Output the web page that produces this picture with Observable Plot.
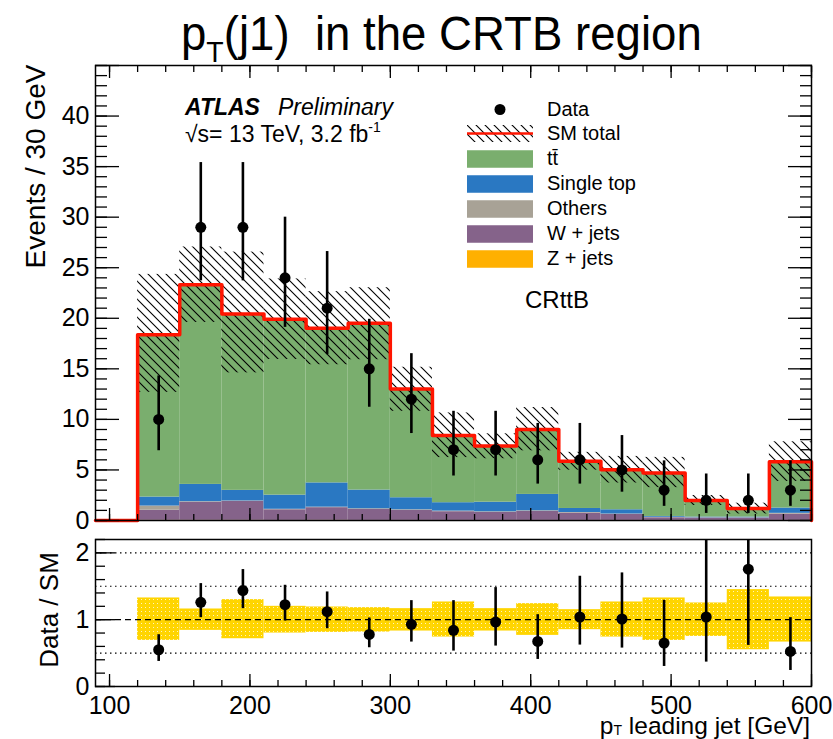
<!DOCTYPE html>
<html><head><meta charset="utf-8">
<script src="https://cdn.jsdelivr.net/npm/d3@7"></script>
<script src="https://cdn.jsdelivr.net/npm/@observablehq/plot@0.6"></script>
<style>
html,body{margin:0;padding:0;background:#fff;overflow:hidden;}
#wrap{position:relative;width:833px;height:739px;font-family:"Liberation Sans",Arial,sans-serif;}
</style></head><body>
<svg width="0" height="0" style="position:absolute">
<defs>
<pattern id="hatch" patternUnits="userSpaceOnUse" width="9" height="9">
<path d="M-1,-1 L10,10 M-1,8 L1,10 M8,-1 L10,1" stroke="#000" stroke-width="1.1" fill="none"/>
</pattern>
<pattern id="band" patternUnits="userSpaceOnUse" width="4" height="4">
<rect width="4" height="4" fill="#ffd500"/>
<rect x="1" y="1" width="1" height="1" fill="#fff" fill-opacity="0.75"/>
</pattern>
</defs></svg>
<div id="wrap"></div>
<script>
// ---- data ----
const binLo = [120,150,180,210,240,270,300,330,360,390,420,450,480,510,540,570];
const binHi = [150,180,210,240,270,300,330,360,390,420,450,480,510,540,570,600];
const binCenter = [135,165,195,225,255,285,315,345,375,405,435,465,495,525,555,585];

const ttbar     = [16.05,19.75,17.44,17.4,15.3,16.5,10.76,6.65,5.55,6.43,4.67,3.95,4.31,1.64,0.84,4.58];
const singleTop = [0.89,1.71,1.05,1.4,2.4,1.85,1.19,0.83,0.95,1.62,0.4,0.42,0.08,0.07,0.07,0.52];
const others    = [0.41,0.06,0.04,0.05,0.05,0.07,0.06,0.06,0.06,0.06,0.06,0.04,0.05,0.03,0.03,0.08];
const wjets     = [1.0,1.78,1.87,1.05,1.25,1.08,0.99,0.86,0.79,0.89,0.72,0.59,0.26,0.23,0.23,0.62];
const zjets     = [0.02,0.02,0.02,0.01,0.02,0.01,0.01,0.01,0.01,0.01,0.01,0.01,0.01,0.01,0.01,0.01];

const dataVals = [10,29,29,24,21,15,12,7,7,6,6,5,3,2,2,3];
const dataLo   = [6.9,23.7,23.7,19.1,16.4,11.2,8.6,4.4,4.4,3.6,3.6,2.8,1.4,0.7,0.7,1.4];
const dataHi   = [14.3,35.4,35.4,30.0,26.6,19.9,16.5,10.8,10.8,9.6,9.6,8.4,5.9,4.6,4.6,5.9];

// relative SM uncertainty band (ratio panel)
const bandLo = [0.69,0.84,0.715,0.8,0.81,0.815,0.83,0.74,0.83,0.765,0.85,0.74,0.69,0.75,0.55,0.665];
const bandHi = [1.325,1.16,1.30,1.2,1.19,1.18,1.165,1.265,1.165,1.24,1.15,1.265,1.325,1.25,1.45,1.34];

// Data / SM
const ratioVals = [0.55,1.26,1.435,1.225,1.12,0.78,0.93,0.84,0.965,0.675,1.04,1.01,0.65,1.04,1.755,0.525];
const ratioLo   = [0.375,1.03,1.165,0.98,0.865,0.58,0.665,0.53,0.605,0.405,0.62,0.575,0.30,0.365,0.615,0.24];
const ratioHi   = [0.775,1.54,1.75,1.515,1.415,1.025,1.285,1.285,1.48,1.075,1.65,1.70,1.29,2.36,3.97,1.03];

const compNames  = ["Z + jets","W + jets","Others","Single top","tt\u0304"]; // bottom -> top
const compColors = ["#ffb000","#85638a","#a8a296","#2a78c2","#7aae6e"];

const xMajor = [100,200,300,400,500,600];
const xMinor = [100,120,140,160,180,200,220,240,260,280,300,320,340,360,380,400,420,440,460,480,500,520,540,560,580,600];
const yMajor = [0,5,10,15,20,25,30,35,40,45];
const yLabels = [0,5,10,15,20,25,30,35,40];
const yMinor = d3.range(0,46,1);
const rMajor = [0,1,2];
const rMinor = [0,0.2,0.4,0.6,0.8,1,1.2,1.4,1.6,1.8,2,2.2];
const rGrid = [0.5,1.5,2];

// ---- tables built from the arrays ----
const series = [zjets, wjets, others, singleTop, ttbar];
const stackRows = [];
const total = binLo.map((lo,i) => {
  let base = 0;
  series.forEach((s,k) => {
    stackRows.push({x1: lo, x2: binHi[i], y1: base, y2: base + s[i], comp: compNames[k]});
    base += s[i];
  });
  return base;
});
const bins = binLo.map((lo,i) => ({
  lo, hi: binHi[i], c: binCenter[i],
  d: dataVals[i], dLo: dataLo[i], dHi: dataHi[i],
  bLo: total[i]*bandLo[i], bHi: total[i]*bandHi[i],
  rbLo: bandLo[i], rbHi: bandHi[i],
  r: ratioVals[i], rLo: ratioLo[i], rHi: ratioHi[i]
}));
const stepPts = [{x: 90, y: 0}, ...binLo.map((lo,i) => ({x: lo, y: total[i]})), {x: 600, y: 0}];

const font = '"Liberation Sans", Arial, sans-serif';
const tickW = 1.3;
const intFmt = d => String(d);

const main = Plot.plot({
  width: 833, height: 545,
  marginLeft: 95, marginRight: 22, marginTop: 65, marginBottom: 25,
  x: {domain: [90, 600]},
  y: {domain: [0, 45]},
  color: {domain: compNames, range: compColors},
  style: {fontFamily: font, fontSize: "25px", background: "transparent", color: "#000"},
  marks: [
    Plot.rect(stackRows, {x1: "x1", x2: "x2", y1: "y1", y2: "y2", fill: "comp"}),
    Plot.rect(bins, {x1: "lo", x2: "hi", y1: "bLo", y2: "bHi", fill: "url(#hatch)"}),
    Plot.line(stepPts, {x: "x", y: "y", curve: "step-after", stroke: "#ff1500", strokeWidth: 3.5}),
    Plot.ruleX(bins, {x: "c", y1: "dLo", y2: "dHi", stroke: "#000", strokeWidth: 2.6}),
    Plot.dot(bins, {x: "c", y: "d", r: 5.5, fill: "#000", stroke: "none"}),
    Plot.axisY(yMajor, {anchor: "left", tickSize: -24, fill: "none", label: null, strokeWidth: tickW}),
    Plot.axisY(yMinor, {anchor: "left", tickSize: -12, fill: "none", label: null, strokeWidth: tickW}),
    Plot.axisY(yMajor, {anchor: "right", tickSize: -24, fill: "none", label: null, strokeWidth: tickW}),
    Plot.axisY(yMinor, {anchor: "right", tickSize: -12, fill: "none", label: null, strokeWidth: tickW}),
    Plot.axisY(yLabels, {anchor: "left", tickSize: 0, tickPadding: 6, label: null, tickFormat: intFmt}),
    Plot.axisX(xMajor, {anchor: "bottom", tickSize: -12, fill: "none", label: null, strokeWidth: tickW}),
    Plot.axisX(xMinor, {anchor: "bottom", tickSize: -6, fill: "none", label: null, strokeWidth: tickW}),
    Plot.axisX(xMajor, {anchor: "top", tickSize: -12, fill: "none", label: null, strokeWidth: tickW}),
    Plot.axisX(xMinor, {anchor: "top", tickSize: -6, fill: "none", label: null, strokeWidth: tickW}),
    Plot.frame({stroke: "#000", strokeWidth: 1.5})
  ]
});

const ratio = Plot.plot({
  width: 833, height: 209,
  marginLeft: 95, marginRight: 22, marginTop: 9, marginBottom: 53,
  x: {domain: [90, 600]},
  y: {domain: [0, 2.2]},
  style: {fontFamily: font, fontSize: "25px", background: "transparent", color: "#000"},
  marks: [
    Plot.ruleY(rGrid, {stroke: "#000", strokeWidth: 1.2, strokeDasharray: "1.5,3.5"}),
    Plot.rect(bins, {x1: "lo", x2: "hi", y1: "rbLo", y2: "rbHi", fill: "url(#band)"}),
    Plot.ruleY([1], {stroke: "#000", strokeWidth: 1.2, strokeDasharray: "6,4"}),
    Plot.ruleX(bins, {x: "c", y1: "rLo", y2: "rHi", stroke: "#000", strokeWidth: 2.6, clip: true}),
    Plot.dot(bins, {x: "c", y: "r", r: 5.5, fill: "#000", stroke: "none"}),
    Plot.axisY(rMajor, {anchor: "left", tickSize: -20, fill: "none", label: null, strokeWidth: tickW}),
    Plot.axisY(rMinor, {anchor: "left", tickSize: -10, fill: "none", label: null, strokeWidth: tickW}),
    Plot.axisY(rMajor, {anchor: "left", tickSize: 0, tickPadding: 6, label: null, tickFormat: intFmt}),
    Plot.axisX(xMajor, {anchor: "bottom", tickSize: -12, fill: "none", label: null, strokeWidth: tickW}),
    Plot.axisX(xMinor, {anchor: "bottom", tickSize: -6, fill: "none", label: null, strokeWidth: tickW}),
    Plot.axisX(xMajor, {anchor: "bottom", tickSize: 0, tickPadding: 10, label: null, tickFormat: intFmt}),
    Plot.frame({stroke: "#000", strokeWidth: 1.5})
  ]
});

const wrap = document.getElementById("wrap");
for (const [el, top] of [[main, 0], [ratio, 530]]) {
  el.style.position = "absolute";
  el.style.left = "0px";
  el.style.top = top + "px";
  wrap.appendChild(el);
}

// ---- overlay: title, axis titles, legend, annotations ----
const ov = d3.select(wrap).append("svg")
  .attr("width", 833).attr("height", 739)
  .style("position", "absolute").style("left", "0px").style("top", "0px")
  .style("pointer-events", "none")
  .attr("font-family", font).attr("fill", "#000");

const title = ov.append("text").attr("transform", "translate(181,50) scale(0.95,1)")
  .attr("x", 0).attr("y", 0).attr("font-size", 48);
title.append("tspan").text("p");
title.append("tspan").attr("font-size", 30).attr("dy", 12).text("T");
title.append("tspan").attr("dy", -12).text("(j1)\u00a0 in the CRTB region");

ov.append("text").attr("transform", "translate(45,166.5) rotate(-90)")
  .attr("text-anchor", "middle").attr("font-size", 28).text("Events / 30 GeV");
ov.append("text").attr("transform", "translate(58,610) rotate(-90)")
  .attr("text-anchor", "middle").attr("font-size", 26).text("Data / SM");

const xl = ov.append("text").attr("x", 810).attr("y", 734).attr("text-anchor", "end").attr("font-size", 24.5);
xl.append("tspan").text("p");
xl.append("tspan").attr("font-size", 14).attr("dy", 1).text("T");
xl.append("tspan").attr("dy", -1).text(" leading jet [GeV]");

// ATLAS label
ov.append("text").attr("x", 185).attr("y", 115).attr("font-size", 23)
  .attr("font-weight", "bold").attr("font-style", "italic").text("ATLAS");
ov.append("text").attr("x", 278).attr("y", 115).attr("font-size", 23)
  .attr("font-style", "italic").text("Preliminary");
const lumi = ov.append("text").attr("x", 185).attr("y", 142).attr("font-size", 23);
lumi.append("tspan").text("\u221As= 13 TeV, 3.2 fb");
lumi.append("tspan").attr("font-size", 14).attr("dy", -10).text("-1");

// legend
const legX = 467, legW = 66, legTextX = 547;
const legRows = [
  {label: "Data", cy: 109.5, kind: "dot"},
  {label: "SM total", cy: 133.5, kind: "sm"},
  {label: "tt\u0304", cy: 159, kind: "box", color: compColors[4]},
  {label: "Single top", cy: 184, kind: "box", color: compColors[3]},
  {label: "Others", cy: 209, kind: "box", color: compColors[2]},
  {label: "W + jets", cy: 234, kind: "box", color: compColors[1]},
  {label: "Z + jets", cy: 259, kind: "box", color: compColors[0]}
];
for (const r of legRows) {
  if (r.kind === "dot") {
    ov.append("circle").attr("cx", legX + legW/2).attr("cy", r.cy).attr("r", 5.5).attr("fill", "#000");
  } else if (r.kind === "sm") {
    ov.append("rect").attr("x", legX).attr("y", r.cy - 8.5).attr("width", legW).attr("height", 17).attr("fill", "url(#hatch)");
    ov.append("line").attr("x1", legX).attr("x2", legX + legW).attr("y1", r.cy).attr("y2", r.cy)
      .attr("stroke", "#ff1500").attr("stroke-width", 2.5);
  } else {
    ov.append("rect").attr("x", legX).attr("y", r.cy - 8.75).attr("width", legW).attr("height", 17.5).attr("fill", r.color);
  }
  ov.append("text").attr("x", legTextX).attr("y", r.cy + 6).attr("font-size", 20).text(r.label);
}
ov.append("text").attr("x", 525).attr("y", 308).attr("font-size", 24).text("CRttB");
</script>
</body></html>
